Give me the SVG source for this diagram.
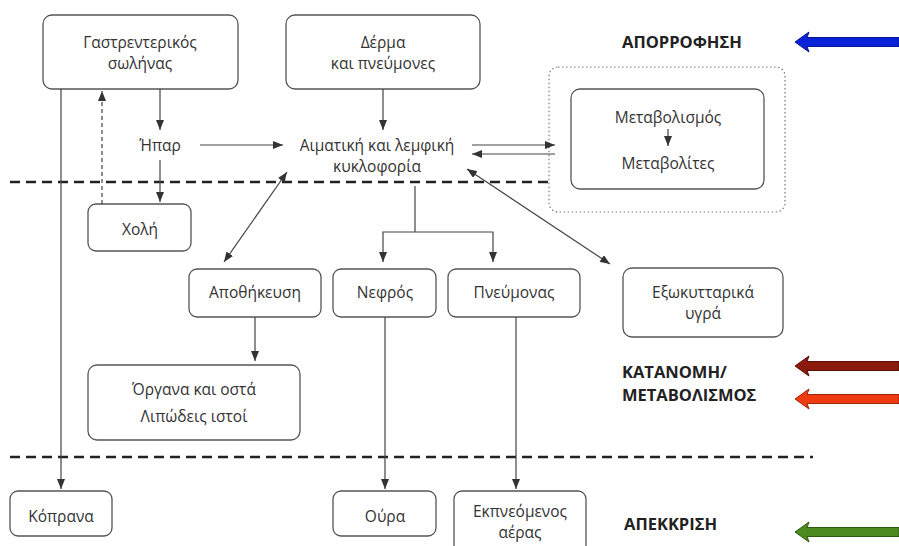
<svg xmlns="http://www.w3.org/2000/svg" width="899" height="546" viewBox="0 0 899 546">
<defs>
<style>
.box{fill:#fff;stroke:#555;stroke-width:1.3}
.t{font-family:"Open Sans","Noto Sans",sans-serif;font-size:15.5px;fill:#333;text-anchor:middle}
.b{font-family:"Open Sans","Noto Sans",sans-serif;font-size:16.5px;font-weight:bold;fill:#222}
.c{fill:none;stroke:#444;stroke-width:1.2}
.sep{stroke:#222;stroke-width:2.5;stroke-dasharray:10 6;fill:none}
</style>
<marker id="ah" viewBox="0 0 10 8" refX="10" refY="4" markerWidth="10" markerHeight="8" markerUnits="userSpaceOnUse" orient="auto-start-reverse">
<path d="M0,0 L10,4 L0,8 Z" fill="#333"/>
</marker>
</defs>

<line class="sep" x1="10" y1="182" x2="549" y2="182"/>
<line class="sep" x1="10" y1="457" x2="813" y2="457"/>

<g id="gastro"><rect class="box" x="43" y="15" width="195" height="74" rx="9"/>
<text class="t" x="140" y="48">Γαστρεντερικός</text><text class="t" x="140" y="69">σωλήνας</text></g>
<g id="derma"><rect class="box" x="286" y="15" width="194" height="74" rx="9"/>
<text class="t" x="383" y="48">Δέρμα</text><text class="t" x="383" y="69">και πνεύμονες</text></g>
<g id="hpar"><text class="t" x="160" y="151">Ήπαρ</text></g>
<g id="kykloforia"><text class="t" x="377" y="151">Αιματική και λεμφική</text><text class="t" x="377" y="172">κυκλοφορία</text></g>
<g id="metabolism-zone"><rect x="549" y="67" width="236" height="145" rx="9" fill="none" stroke="#777" stroke-width="1.2" stroke-dasharray="1.5 2.5"/>
<rect class="box" x="571" y="89" width="193" height="100" rx="9"/>
<text class="t" x="668" y="123">Μεταβολισμός</text><text class="t" x="668" y="169">Μεταβολίτες</text></g>
<g id="xoli"><rect class="box" x="88" y="204" width="103" height="47" rx="8"/><text class="t" x="140" y="235">Χολή</text></g>
<g id="apothikeusi"><rect class="box" x="189" y="269" width="132" height="48" rx="8"/><text class="t" x="255" y="298">Αποθήκευση</text></g>
<g id="nefros"><rect class="box" x="333" y="269" width="103" height="48" rx="8"/><text class="t" x="385" y="298">Νεφρός</text></g>
<g id="pneumonas"><rect class="box" x="448" y="269" width="132" height="48" rx="8"/><text class="t" x="514" y="298">Πνεύμονας</text></g>
<g id="exokyttarika"><rect class="box" x="623" y="268" width="160" height="69" rx="9"/>
<text class="t" x="703" y="298">Εξωκυτταρικά</text><text class="t" x="703" y="319">υγρά</text></g>
<g id="organa"><rect class="box" x="88" y="365" width="212" height="75" rx="9"/>
<text class="t" x="194" y="395">Όργανα και οστά</text><text class="t" x="194" y="422">Λιπώδεις ιστοί</text></g>
<g id="koprana"><rect class="box" x="10" y="491" width="102" height="45" rx="8"/><text class="t" x="61" y="522">Κόπρανα</text></g>
<g id="oura"><rect class="box" x="333" y="491" width="103" height="45" rx="8"/><text class="t" x="385" y="522">Ούρα</text></g>
<g id="ekpneomenos"><rect class="box" x="454" y="491" width="132" height="62" rx="8"/>
<text class="t" x="520" y="517">Εκπνεόμενος</text><text class="t" x="520" y="538">αέρας</text></g>

<g id="connectors">
<line class="c" x1="61" y1="89" x2="61" y2="489" marker-end="url(#ah)"/>
<line class="c" x1="102" y1="204" x2="102" y2="91" stroke-dasharray="4 3" marker-end="url(#ah)"/>
<line class="c" x1="160" y1="89" x2="160" y2="130" marker-end="url(#ah)"/>
<line class="c" x1="160" y1="160" x2="160" y2="202" marker-end="url(#ah)"/>
<line class="c" x1="200" y1="145" x2="283" y2="145" marker-end="url(#ah)"/>
<line class="c" x1="383" y1="89" x2="383" y2="130" marker-end="url(#ah)"/>
<line class="c" x1="472" y1="145" x2="555" y2="145" marker-end="url(#ah)"/>
<line class="c" x1="555" y1="154" x2="472" y2="154" marker-end="url(#ah)"/>
<line class="c" x1="287" y1="172" x2="224" y2="262" marker-start="url(#ah)" marker-end="url(#ah)"/>
<line class="c" x1="467" y1="169" x2="610" y2="264" marker-start="url(#ah)" marker-end="url(#ah)"/>
<polyline class="c" points="415,186 415,232"/>
<polyline class="c" points="383,262 383,232 493,232 493,262" marker-start="url(#ah)" marker-end="url(#ah)"/>
<line class="c" x1="255" y1="317" x2="255" y2="361" marker-end="url(#ah)"/>
<line class="c" x1="385" y1="317" x2="385" y2="489" marker-end="url(#ah)"/>
<line class="c" x1="516" y1="317" x2="516" y2="489" marker-end="url(#ah)"/>
<line class="c" x1="668" y1="129" x2="668" y2="146" marker-end="url(#ah)"/>
</g>

<g id="labels">
<text class="b" x="622" y="48">ΑΠΟΡΡΟΦΗΣΗ</text>
<text class="b" x="622" y="378">ΚΑΤΑΝΟΜΗ/</text>
<text class="b" x="622" y="401">ΜΕΤΑΒΟΛΙΣΜΟΣ</text>
<text class="b" x="624" y="530">ΑΠΕΚΚΡΙΣΗ</text>
</g>

<g id="phase-arrows" stroke-width="1">
<path d="M795,42 L809,32 L807,37.5 L899,37.5 L899,46.5 L807,46.5 L809,52 Z" fill="#0a22d8" stroke="#061590"/>
<path d="M795,366 L809,356 L807,361.5 L899,361.5 L899,370.5 L807,370.5 L809,376 Z" fill="#8a1a0c" stroke="#5a0f06"/>
<path d="M795,399 L809,389 L807,394.5 L899,394.5 L899,403.5 L807,403.5 L809,409 Z" fill="#f03a12" stroke="#a02508"/>
<path d="M795,532 L809,522 L807,527.5 L899,527.5 L899,536.5 L807,536.5 L809,542 Z" fill="#4a8a1e" stroke="#2e5a12"/>
</g>
</svg>
